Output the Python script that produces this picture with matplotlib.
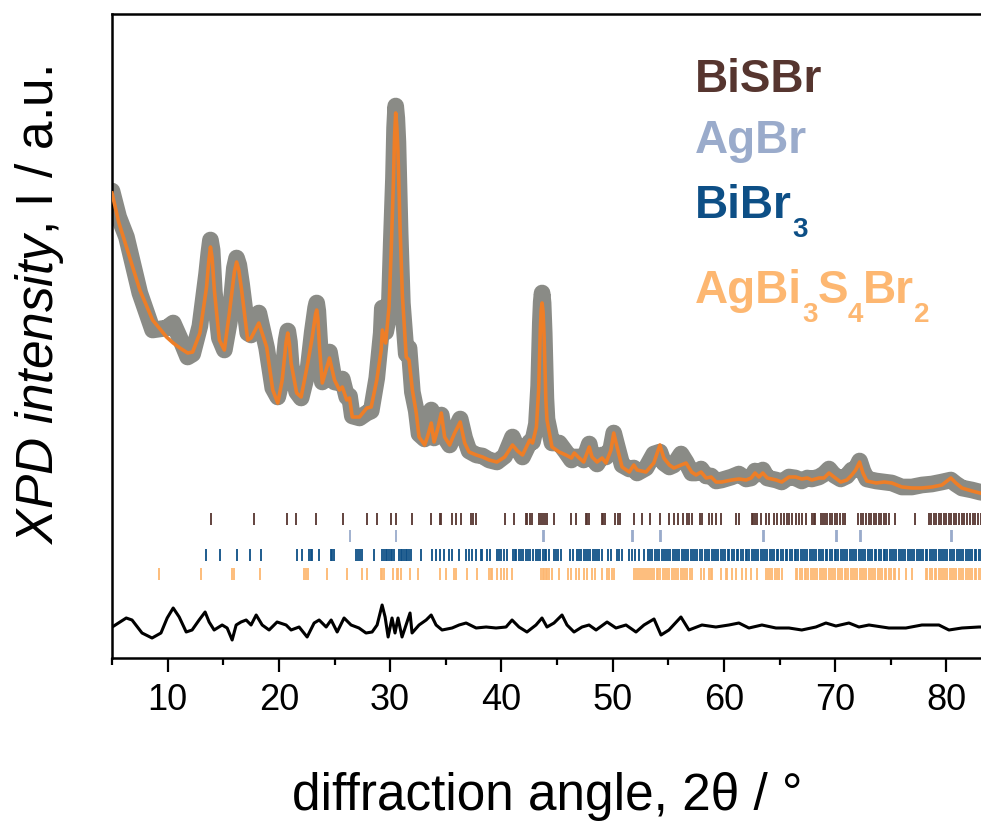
#!/usr/bin/env python3
"""XPD pattern of the BiSBr / AgBr / BiBr3 / AgBi3S4Br2 sample with Rietveld fit."""
import matplotlib
matplotlib.use('Agg')
import matplotlib.pyplot as plt
from matplotlib.ticker import MultipleLocator

plt.rcParams['mathtext.fontset'] = 'custom'
plt.rcParams['mathtext.rm'] = 'Liberation Sans'
plt.rcParams['mathtext.it'] = 'Liberation Sans:italic'
FONT = ['Liberation Sans', 'DejaVu Sans']

# 2theta grid (deg) with calculated and observed intensities (a.u.)
two_theta = [5.0, 5.6, 6.3, 7.5, 8.65, 9.9, 10.5, 11.1, 11.8, 12.25, 12.9, 13.5, 13.7, 13.85,
             14.0, 14.2, 14.65, 15.1, 15.55, 16.0, 16.2, 16.4, 16.65, 17.2, 17.5, 18.2, 18.9,
             19.45, 19.9, 20.3, 20.65, 20.8, 20.95, 21.1, 21.6, 22.0, 22.6, 23.0, 23.3, 23.4,
             23.5, 23.65, 23.9, 24.55, 25.0, 25.45, 25.7, 26.1, 26.35, 26.6, 27.25, 27.9, 28.3,
             28.8, 29.2, 29.3, 29.6, 29.9, 30.1, 30.3, 30.4, 30.5, 30.6, 30.7, 30.9, 31.1,
             31.45, 31.7, 32.0, 32.35, 32.6, 33.1, 33.35, 33.7, 33.95, 34.25, 34.6, 34.9,
             35.35, 35.8, 36.3, 36.7, 37.1, 37.75, 38.3, 38.9, 39.6, 40.3, 41.0, 41.45, 41.9,
             42.55, 42.8, 43.15, 43.35, 43.5, 43.58, 43.66, 43.75, 43.85, 44.0, 44.1, 44.55,
             45.2, 45.8, 46.3, 46.55, 47.0, 47.4, 47.9, 48.15, 48.6, 49.05, 49.4, 49.85, 50.1,
             50.4, 50.85, 51.5, 51.9, 52.2, 53.0, 53.7, 54.25, 54.6, 55.1, 55.5, 56.15, 56.6,
             57.1, 57.5, 57.95, 58.4, 58.85, 59.3, 59.8, 60.7, 61.35, 62.0, 62.45, 62.8, 63.15,
             63.5, 63.9, 64.7, 65.2, 65.85, 66.45, 67.0, 67.5, 67.9, 68.55, 69.0, 69.45, 69.9,
             70.5, 71.05, 71.5, 71.85, 72.2, 72.5, 72.85, 73.7, 74.4, 75.1, 76.0, 76.9, 77.8,
             78.7, 79.6, 80.4, 80.85, 81.4, 82.3, 83.0, 84.0, 85.0]
calc = [465, 436, 411, 368, 338, 321, 315, 310, 305, 306, 325, 371, 397, 411,
        400, 368, 318, 308, 345, 386, 396, 388, 368, 318, 320, 335, 311,
        268, 255, 278, 316, 325, 314, 295, 265, 261, 295, 321, 344, 348,
        340, 311, 275, 300, 278, 268, 271, 258, 260, 241, 241, 250, 251,
        278, 308, 328, 315, 351, 408, 478, 522, 545, 532, 508, 428, 363,
        301, 298, 268, 245, 221, 213, 221, 235, 216, 228, 245, 221,
        213, 225, 236, 215, 206, 203, 201, 198, 196, 201, 213, 207, 203,
        218, 215, 231, 268, 328, 348, 355, 346, 318, 258, 238, 211,
        206, 203, 200, 205, 200, 196, 211, 201, 196, 200, 195, 208, 225,
        211, 191, 186, 193, 188, 186, 195, 213, 200, 193, 190, 193, 195,
        186, 183, 186, 180, 181, 176, 176, 178, 179, 178, 180, 185, 181,
        185, 180, 178, 176, 181, 181, 179, 180, 178, 180, 180, 185, 181,
        176, 178, 183, 188, 196, 185, 177, 175, 176, 175, 171, 170, 170,
        171, 173, 180, 175, 170, 167, 165, 163, 161]
obs = [467, 441, 421, 365, 328, 330, 335, 320, 301, 304, 332, 384, 405, 418,
       408, 366, 320, 308, 336, 390, 400, 393, 374, 325, 323, 345, 310,
       270, 261, 280, 318, 327, 316, 293, 266, 260, 287, 326, 350, 355,
       347, 319, 276, 306, 276, 275, 279, 261, 262, 242, 240, 245, 247,
       280, 325, 350, 326, 343, 415, 480, 530, 552, 540, 516, 425, 355,
       304, 310, 266, 247, 224, 219, 230, 248, 220, 230, 243, 221,
       213, 227, 239, 220, 207, 203, 202, 198, 196, 202, 221, 209, 201,
       216, 216, 234, 272, 335, 356, 365, 355, 325, 260, 239, 215,
       215, 206, 198, 201, 201, 198, 214, 200, 194, 203, 201, 210, 225,
       212, 193, 189, 190, 185, 190, 204, 206, 195, 191, 193, 204, 196,
       185, 185, 189, 182, 182, 177, 178, 181, 184, 179, 180, 187, 184,
       188, 180, 178, 176, 181, 180, 177, 180, 179, 181, 184, 189, 183,
       179, 182, 188, 189, 197, 187, 179, 177, 176, 175, 171, 171, 173,
       174, 176, 178, 174, 170, 168, 166, 164, 162]

# difference curve (obs - calc), drawn around its own baseline
diff_theta = [5.02, 6.28, 6.8, 7.7, 8.6, 9.4, 9.96, 10.5, 11.04, 11.67, 12.2, 12.83, 13.37,
              13.73, 14.18, 14.9, 15.35, 15.8, 16.16, 16.6, 17.06, 17.5, 17.96, 18.5, 19.12,
              19.84, 20.65, 21.1, 21.82, 22.54, 23.17, 23.62, 24.25, 24.7, 25.24, 25.86,
              26.49, 27.2, 27.83, 28.38, 28.83, 29.28, 29.55, 29.82, 30.17, 30.44, 30.71,
              31.07, 31.43, 31.79, 31.97, 32.6, 33.24, 33.69, 34.13, 34.67, 35.57, 36.2,
              36.83, 37.73, 38.63, 39.52, 40.42, 40.96, 41.58, 42.3, 43.11, 43.65, 44.1,
              44.73, 45.45, 45.9, 46.53, 47.25, 47.88, 48.51, 49.5, 50.3, 51.2, 52.1, 52.82,
              53.72, 54.35, 55.06, 56.14, 56.86, 58.03, 59.28, 60.45, 61.35, 62.25, 63.42,
              64.68, 65.85, 67.0, 68.27, 69.17, 70.07, 71.24, 72.14, 73.04, 74.83, 76.36,
              77.8, 79.33, 80.23, 81.4, 82.93, 85.0]
diff = [1, 10, 8, -5, -10, -5, 10, 20, 11, -4, -2, 8, 16,
        6, -2, 3, 0, -12, 3, 6, 8, 3, 13, 3, -2,
        6, 3, -2, 1, -9, 5, 8, 1, 8, -4, 10,
        3, 0, -5, -4, 3, 23, 11, -9, 10, -5, 10,
        -9, 3, 15, -5, 3, 8, 13, 3, -2, 0, 3,
        5, 0, 1, 0, 1, 8, 1, -4, 3, 10, 1,
        5, 13, 3, -4, 1, 3, -2, 6, 0, 3, -4, 3,
        9, -7, -2, 11, -2, 3, 1, 3, 5, 0, 3,
        0, 0, -2, 1, 5, 2, 5, 1, 3, 0, 0,
        3, 3, -2, 0, 1, 1]
diff_base = 30

# reflection positions (deg 2theta) of the four phases
pos_bisbr = [13.89, 17.78, 20.77, 21.52, 23.37, 25.8, 27.96, 28.85, 30.06, 30.51, 31.95, 33.65,
             34.46, 34.6, 35.6, 35.9, 36.35, 37.25, 37.45, 37.7, 40.33, 41.14, 42.19, 42.33,
             42.55, 42.78, 43.4, 43.6, 43.75, 43.9, 44.1, 44.73, 46.23, 46.68, 47.58, 47.7,
             47.85, 49.0, 49.15, 49.3, 50.2, 50.5, 50.65, 51.9, 52.66, 53.4, 54.25, 55.06,
             55.5, 55.9, 56.3, 56.7, 56.9, 57.1, 57.82, 58.05, 58.66, 58.9, 59.26, 59.7,
             61.05, 61.35, 62.5, 62.65, 62.8, 62.95, 63.3, 63.75, 64.05, 64.5, 64.8, 65.1,
             65.4, 65.7, 65.85, 66.15, 66.45, 66.75, 67.05, 67.35, 67.95, 68.1, 68.2, 68.7,
             68.9, 69.1, 69.3, 69.5, 69.75, 70.0, 70.2, 70.45, 70.7, 70.9, 72.1, 72.3, 72.55,
             72.8, 73.0, 73.2, 73.45, 73.7, 73.9, 74.1, 74.35, 74.6, 74.8, 75.4, 77.2, 78.4,
             78.6, 78.85, 79.05, 79.3, 79.5, 79.75, 80.0, 80.2, 80.45, 80.7, 80.9, 81.15,
             81.4, 81.6, 81.85, 82.1, 82.35, 82.6, 82.85, 83.1, 83.4, 83.6, 83.9, 84.2, 84.5,
             84.8]
pos_agbr = [26.4, 30.55, 43.7, 43.8, 51.7, 51.8, 54.25, 54.35, 63.55, 63.65, 70.1, 70.2,
            72.2, 72.3, 80.45, 80.55]
pos_bibr3 = [13.44, 14.69, 16.28, 17.42, 18.38, 21.67, 22.12, 22.72, 22.85, 23.0, 23.62, 24.67,
             24.8, 24.96, 26.91, 27.1, 27.3, 27.51, 28.56, 29.3, 29.45, 29.6, 29.75, 29.9,
             30.05, 30.2, 30.35, 30.8, 30.95, 31.1, 31.25, 31.4, 31.55, 31.7, 31.86, 32.75,
             33.8, 34.1, 34.46, 34.85, 35.3, 35.6, 36.2, 36.8, 37.1, 37.4, 37.7, 38.15, 38.3,
             38.7, 39.0, 39.6, 39.8, 40.0, 40.2, 40.5, 41.0, 41.2, 41.35, 41.6, 41.8, 41.95,
             42.2, 42.4, 42.6, 42.8, 43.1, 43.3, 43.45, 43.7, 43.9, 44.05, 44.3, 44.7, 44.9,
             45.1, 45.35, 46.2, 46.45, 46.8, 47.0, 47.15, 47.4, 47.6, 47.8, 48.0, 48.25, 48.4,
             48.6, 48.8, 49.0, 49.6, 49.85, 50.4, 50.6, 50.85, 51.5, 51.75, 52.0, 52.35, 52.8,
             53.2, 53.4, 53.55, 53.8, 54.0, 54.2, 54.4, 54.65, 54.8, 55.0, 55.2, 55.45, 55.6,
             55.8, 56.0, 56.25, 56.4, 56.6, 56.8, 57.05, 57.2, 57.4, 57.6, 57.85, 58.0, 58.3,
             58.5, 58.7, 58.95, 59.1, 59.3, 59.5, 59.75, 59.9, 60.1, 60.35, 60.5, 60.7, 60.9,
             61.15, 61.3, 61.5, 61.7, 61.95, 62.1, 62.3, 62.55, 62.7, 62.9, 63.1, 63.35, 63.5,
             63.7, 63.9, 64.15, 64.3, 64.5, 64.75, 64.9, 65.1, 65.3, 65.55, 65.7, 65.9, 66.1,
             66.35, 66.5, 66.7, 66.95, 67.1, 67.3, 67.5, 67.75, 67.9, 68.1, 68.3, 68.55, 68.7,
             68.9, 69.15, 69.3, 69.5, 69.7, 69.95, 70.1, 70.3, 70.5, 70.75, 70.9, 71.1, 71.35,
             71.5, 71.7, 71.9, 72.15, 72.3, 72.5, 72.7, 72.95, 73.1, 73.3, 73.55, 73.7, 73.9,
             74.1, 74.35, 74.5, 74.7, 74.9, 75.15, 75.3, 75.5, 75.7, 75.95, 76.1, 76.3, 76.55,
             76.7, 76.9, 77.1, 77.35, 77.5, 77.7, 77.9, 78.15, 78.3, 78.5, 78.75, 78.9, 79.1,
             79.3, 79.55, 79.7, 79.9, 80.1, 80.35, 80.5, 80.7, 80.95, 81.1, 81.3, 81.5, 81.75,
             81.9, 82.1, 82.3, 82.55, 82.7, 82.9, 83.15, 83.3, 83.5, 83.7, 83.95, 84.1, 84.3,
             84.55, 84.7, 84.9]
pos_agbi3s4br2 = [9.18, 13.04, 15.77, 15.98, 18.29, 22.27, 22.42, 22.65, 24.36, 26.16, 27.51,
                  27.96, 29.16, 29.3, 29.46, 30.26, 30.6, 30.74, 30.96, 31.79, 32.54, 34.46,
                  35.0, 35.75, 35.95, 36.94, 37.84, 38.89, 39.05, 39.19, 39.64, 39.94, 40.24,
                  40.54, 40.98, 43.54, 43.7, 43.83, 44.0, 44.13, 44.28, 44.58, 45.18, 46.02,
                  46.23, 46.68, 46.98, 47.43, 47.72, 48.17, 48.41, 49.0, 49.52, 49.7, 49.9,
                  50.12, 51.92, 52.1, 52.3, 52.45, 52.65, 52.8, 53.0, 53.2, 53.35, 53.55,
                  53.7, 53.95, 54.1, 54.3, 54.55, 54.7, 54.9, 55.1, 55.35, 55.5, 55.7, 55.9,
                  56.15, 56.3, 56.5, 56.7, 56.95, 57.16, 57.9, 58.2, 58.66, 58.8, 58.96, 59.7,
                  60.16, 60.3, 60.75, 61.05, 61.65, 61.95, 62.4, 63.0, 63.75, 63.95, 64.15,
                  64.35, 64.6, 64.75, 64.95, 65.24, 66.45, 66.6, 66.8, 67.0, 67.25, 67.4, 67.6,
                  67.8, 68.05, 68.2, 68.4, 68.65, 68.8, 69.0, 69.2, 69.45, 69.6, 69.8, 70.0,
                  70.25, 70.4, 70.6, 70.85, 71.0, 71.2, 71.4, 71.65, 71.8, 72.0, 72.2, 72.45,
                  72.6, 72.8, 73.05, 73.2, 73.4, 73.6, 73.85, 74.0, 74.2, 74.45, 74.6, 74.8,
                  75.0, 75.25, 75.4, 75.73, 76.33, 76.92, 78.13, 78.3, 78.5, 78.7, 78.95, 79.1,
                  79.3, 79.55, 79.7, 79.9, 80.1, 80.35, 80.5, 80.7, 80.9, 81.15, 81.3, 81.5,
                  81.75, 81.9, 82.1, 82.3, 82.55, 82.7, 82.9, 83.1, 83.35, 83.5, 83.7, 83.95,
                  84.1, 84.3, 84.5, 84.75, 84.9]

phase_pos = [pos_bisbr, pos_agbr, pos_bibr3, pos_agbi3s4br2]
phase_rows = [(133, 145), (116, 128), (97, 109), (78, 90)]
phase_colors = ['#56352F', '#9AABCB', '#0D4F86', '#FDB771']
# formula pieces: (text, is_subscript)
phase_labels = [[('BiSBr', False)],
                [('AgBr', False)],
                [('BiBr', False), ('3', True)],
                [('AgBi', False), ('3', True), ('S', False), ('4', True), ('Br', False),
                 ('2', True)]]
label_baselines = [92, 153, 218, 303]   # pixel rows from the top

W, H = 981, 821
fig = plt.figure(figsize=(W / 100, H / 100), dpi=100)
ax = fig.add_axes([112 / W, 163 / H, 890 / W, 644 / H])

grey = '#8A8B86'
ax.plot(two_theta, obs, color=grey, lw=12, solid_joinstyle='round',
        solid_capstyle='round', zorder=2)
ax.plot(two_theta, calc, color='#EE7E27', lw=2.6, solid_joinstyle='round', zorder=3)
ax.plot(diff_theta, [diff_base + d for d in diff], color='black', lw=2.2, zorder=3)

for pos, (lo, hi), c in zip(phase_pos, phase_rows, phase_colors):
    ax.vlines(pos, lo, hi, colors=c, lw=1.3, zorder=2)

ax.set_xlim(5, 85)
ax.set_ylim(0, 644)
ax.set_xticks([10, 20, 30, 40, 50, 60, 70, 80])
ax.xaxis.set_minor_locator(MultipleLocator(5))
ax.set_yticks([])
ax.tick_params(axis='x', which='major', direction='out', length=10, width=1.6, pad=8)
ax.tick_params(axis='x', which='minor', direction='out', length=5, width=1.6)
for lab in ax.get_xticklabels():
    lab.set_family(FONT)
    lab.set_fontsize(26)
for s in ax.spines.values():
    s.set_linewidth(1.8)

fig.text(547 / W, 1 - 810 / H, 'diffraction angle, 2θ / °', family=FONT, fontsize=37,
         ha='center', va='baseline')
fig.text(40 / W, 1 - 305 / H, r'$\mathit{XPD\ intensity}$, I / a.u.', family=FONT,
         fontsize=37, rotation=90, ha='center', va='center')

# phase names with lowered subscripts, pieced together left to right
renderer = fig.canvas.get_renderer()
for parts, c, yb in zip(phase_labels, phase_colors, label_baselines):
    x = 695
    for txt, sub in parts:
        y = yb + (19 if sub else 0)
        t = fig.text(x / W, 1 - y / H, txt, color=c, fontsize=20 if sub else 33,
                     weight='bold', family=FONT, ha='left', va='baseline')
        x = t.get_window_extent(renderer).x1

fig.savefig('out.png', dpi=100)
plt.close()
